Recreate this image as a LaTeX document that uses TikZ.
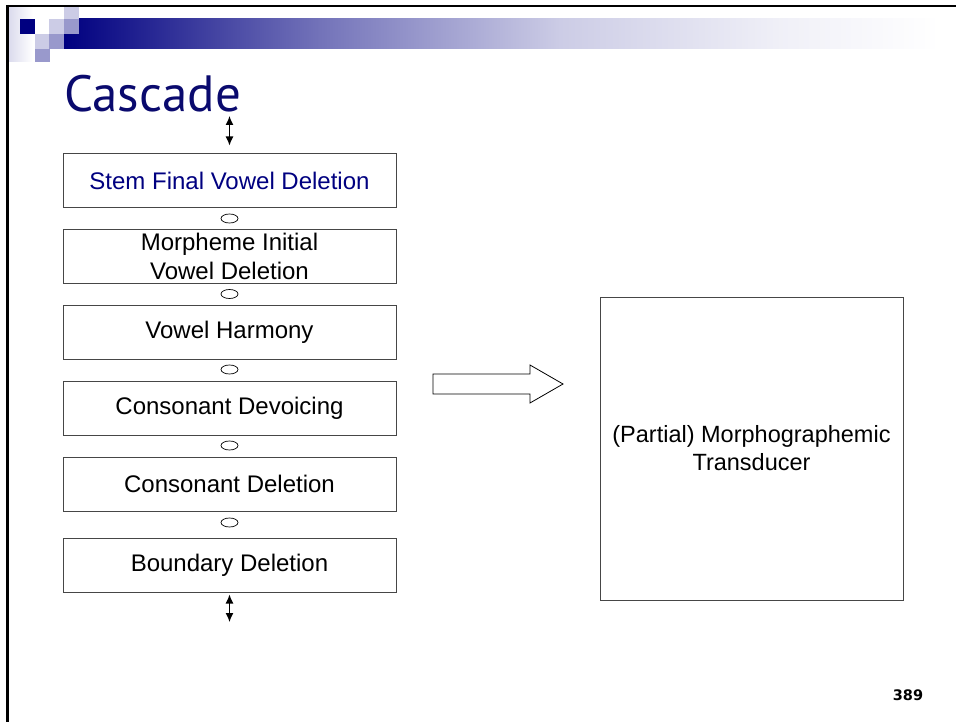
\documentclass[tikz,border=0pt]{standalone}
\usepackage{fontspec}
\setmainfont{Liberation Sans}
\newfontfamily\titlefont{PT Sans}
\newfontfamily\pagefont{DejaVu Sans}
\usetikzlibrary{shapes.geometric,arrows.meta}
\definecolor{navyblue}{RGB}{0,0,128}
\definecolor{titleblue}{RGB}{10,10,110}
\definecolor{midlav}{RGB}{153,153,204}
\definecolor{litlav}{RGB}{204,204,230}
\definecolor{boxline}{RGB}{70,70,70}

\begin{document}
\begin{tikzpicture}[x=1pt,y=-1pt,
  stage/.style={draw=boxline, line width=1pt, minimum width=333pt, minimum height=54pt,
    inner sep=0pt, align=center, font=\fontsize{24}{29}\selectfont},
  joint/.style={ellipse, draw=black, line width=0.7pt, minimum width=17pt,
    minimum height=9pt, inner sep=0pt},
  dbl/.style={{Latex[length=9pt,width=8pt]}-{Latex[length=9pt,width=8pt]}, line width=1.2pt}
]
\useasboundingbox (0,0) rectangle (956,722);

% header decoration: fading strip, gradient bar and squares
\shade[left color=navyblue!14, right color=white] (9,8) rectangle (33,62);
\shade[left color=navyblue, right color=navyblue!55] (64,19) rectangle (320,49);
\shade[left color=navyblue!55, right color=navyblue!20] (319.5,19) rectangle (560,49);
\shade[left color=navyblue!20, right color=navyblue!6] (559.5,19) rectangle (780,49);
\shade[left color=navyblue!6, right color=white] (779.5,19) rectangle (940,49);
\fill[navyblue] (20,19) rectangle (35,34);
\fill[litlav] (64,7) rectangle (79,19);
\fill[litlav] (49,19) rectangle (64,34);
\fill[midlav] (64,19) rectangle (79,34);
\fill[litlav] (35,34) rectangle (49,49);
\fill[midlav] (49,34) rectangle (64,49);
\fill[midlav] (35,49) rectangle (50,62);

% slide frame
\draw[line width=2pt] (6,6) -- (956,6);
\draw[line width=3pt] (7.5,5) -- (7.5,722);

% title
\node[anchor=base west, text=titleblue, font=\titlefont\fontsize{51}{51}\selectfont,
  inner sep=0pt] (title) at (64,112) {Cascade};

% cascade of rule stages
\node[stage, text=navyblue] (b1) at (229.5,181) {Stem Final Vowel Deletion};
\node[stage] (b2) at (229.5,256.5) {Morpheme Initial\\Vowel Deletion};
\node[stage] (b3) at (229.5,332) {Vowel Harmony};
\node[stage] (b4) at (229.5,408) {Consonant Devoicing};
\node[stage] (b5) at (229.5,484) {Consonant Deletion};
\node[stage] (b6) at (229.5,565) {Boundary Deletion};

% composition marks between stages
\node[joint] (j1) at (229.5,218.5) {};
\node[joint] (j2) at (229.5,294) {};
\node[joint] (j3) at (229.5,369.5) {};
\node[joint] (j4) at (229.5,445.5) {};
\node[joint] (j5) at (229.5,522.5) {};

% input / output arrows
\coordinate (in) at (229.5,116);
\coordinate (out) at (229.5,622);
\draw[dbl, shorten >=8pt] (in) -- (b1.north);
\draw[dbl, shorten <=2pt] (b6.south) -- (out);

% block arrow
\draw[line width=0.8pt, fill=white] (433,374) -- (530,374) -- (530,365) -- (563,384)
  -- (530,403) -- (530,394) -- (433,394) -- cycle;

% resulting transducer
\node[draw=boxline, line width=1pt, minimum width=303pt, minimum height=303pt,
  align=center, font=\fontsize{23.5}{28}\selectfont] (fst) at (751.5,448.5)
  {(Partial) Morphographemic\\Transducer};

% page number
\node[font=\pagefont\bfseries\fontsize{14.5}{15}\selectfont] (pg) at (908,695) {389};
\end{tikzpicture}
\end{document}
